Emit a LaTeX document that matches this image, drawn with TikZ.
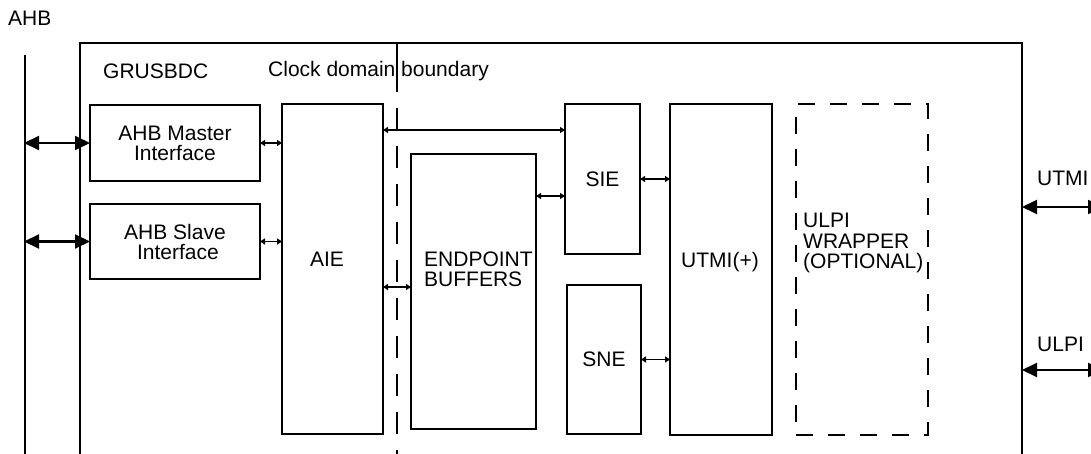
\documentclass[tikz,border=0pt]{standalone}
\usepackage{fontspec}
\setmainfont{Liberation Sans}
\usetikzlibrary{arrows.meta}
\begin{document}
\begin{tikzpicture}[x=1pt,y=-1pt,
  every node/.style={font=\fontsize{21}{20}\selectfont, inner sep=0pt},
  blk/.style={draw, line width=2pt, anchor=north west, align=center},
  dblk/.style={blk, dash pattern=on 17pt off 15pt},
  txt/.style={align=left, anchor=base west},
  bigarr/.style={line width=2pt, {Triangle[length=15pt,width=14pt]}-{Triangle[length=15pt,width=14pt]}, shorten <=-1pt, shorten >=-1pt},
  smarr/.style={line width=1.5pt, {Triangle[length=5pt,width=6pt]}-{Triangle[length=5pt,width=6pt]}, shorten <=-1pt, shorten >=-1pt},
  ]
\useasboundingbox (0,0) rectangle (1091,454);
\clip (0,0) rectangle (1091,454);
% AHB bus
\node[txt] (ahblbl) at (8,26) {AHB};
\coordinate (bustop) at (25,55);
\coordinate (busbot) at (25,455);
\draw[line width=2pt] (bustop) -- (busbot);
% outer box
\coordinate (obl) at (80,456);
\coordinate (otl) at (80,43);
\coordinate (otr) at (1022,43);
\coordinate (obr) at (1022,456);
\draw[line width=2pt] (obl) -- (otl) -- (otr) -- (obr);
\node[txt] (grus) at (103,79) {GRUSBDC};
\node[txt] (cdb) at (268,77) {Clock domain boundary};
% clock domain boundary
\coordinate (cd1) at (397,43);
\coordinate (cd2) at (397,92);
\coordinate (cd3) at (397,108);
\coordinate (cd4) at (397,456);
\draw[line width=2pt] (cd1) -- (cd2);
\draw[line width=2pt, dash pattern=on 22pt off 16pt] (cd3) -- (cd4);
% blocks
\node[blk, minimum width=170pt, minimum height=76pt] (ahbm) at (89,104) {AHB Master\\ Interface};
\node[blk, minimum width=170pt, minimum height=75pt] (ahbs) at (89,203) {AHB Slave\\ \ Interface};
\node[blk, minimum width=101pt, minimum height=330pt] (aie) at (281,103) {};
\node[anchor=center] (aietxt) at (327,259) {AIE};
\node[blk, minimum width=125pt, minimum height=275pt] (ep) at (410,153) {};
\node[txt] (eptxt) at (424,286) {ENDPOINT\\BUFFERS};
\node[blk, minimum width=75pt, minimum height=150pt] (sie) at (564,103) {SIE};
\node[blk, minimum width=74pt, minimum height=149pt] (sne) at (566,284) {SNE};
\node[blk, minimum width=102pt, minimum height=331pt] (utmi) at (669,103) {};
\node[anchor=center] (utmitxt) at (720,262) {UTMI(+)};
\node[dblk, minimum width=132pt, minimum height=331pt] (ulpi) at (795,103) {};
\node[txt] (ulpitxt) at (803,268) {ULPI\\WRAPPER\\(OPTIONAL)};
% bus arrows
\draw[bigarr] (bustop |- ahbm.west) -- (ahbm.west);
\draw[bigarr] (bustop |- ahbs.west) -- (ahbs.west);
% small arrows
\draw[smarr] (ahbm.east) -- (ahbm.east -| aie.west);
\draw[smarr] (ahbs.east) -- (ahbs.east -| aie.west);
\coordinate (ya) at (0,130);
\coordinate (yb) at (0,196);
\coordinate (yc) at (0,287);
\draw[smarr] (aie.east |- ya) -- (sie.west |- ya);
\draw[smarr] (ep.east |- yb) -- (sie.west |- yb);
\draw[smarr] (aie.east |- yc) -- (ep.west |- yc);
\draw[smarr] (sie.east) -- (sie.east -| utmi.west);
\draw[smarr] (sne.east) -- (sne.east -| utmi.west);
% right side interfaces
\node[txt] (utmilbl) at (1037,186) {UTMI};
\node[txt] (ulpilbl) at (1037,351) {ULPI};
\coordinate (r1a) at (1023,207);
\coordinate (r1b) at (1102,207);
\coordinate (r2a) at (1023,370);
\coordinate (r2b) at (1102,370);
\draw[bigarr] (r1a) -- (r1b);
\draw[bigarr] (r2a) -- (r2b);
\end{tikzpicture}
\end{document}
